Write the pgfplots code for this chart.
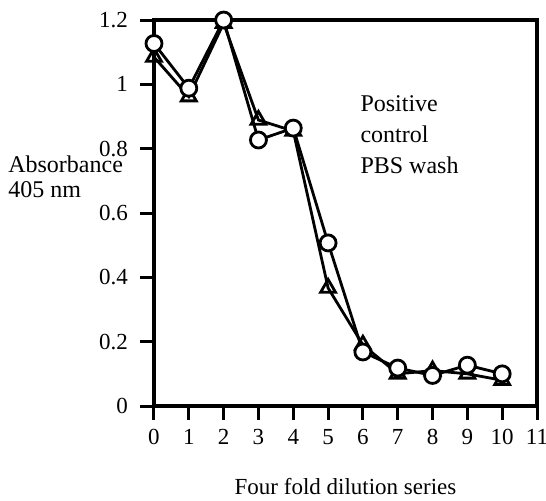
\documentclass[border=0pt]{standalone}
\usepackage{fontspec}
\setmainfont{Liberation Serif}
\usepackage{pgfplots}
\pgfplotsset{compat=1.18}

\begin{document}
\begin{tikzpicture}
% page = reference frame, 1 px = 0.5 pt
\useasboundingbox (-77pt,-47pt) rectangle (196pt,203pt);
\begin{axis}[
  at={(0,0)}, anchor=south west,
  scale only axis,
  width=191.5pt,
  height=193pt,
  xmin=0, xmax=11,
  ymin=0, ymax=1.2,
  xtick={0,1,...,11},
  ytick={0,0.2,0.4,0.6,0.8,1,1.2},
  tick pos=left,
  tick align=outside,
  major tick length=7pt,
  axis line style={line width=1.6pt},
  every tick/.style={line width=1.5pt,black},
  /pgf/number format/assume math mode=true,
  tick label style={font=\fontsize{11.5}{13}\selectfont},
  yticklabel style={xshift=-2.5pt},
  xticklabel style={yshift=-1pt},
  xlabel={Four fold dilution series},
  xlabel style={font=\fontsize{11.5}{13}\selectfont, at={(rel axis cs:0.5,-0.228)}, anchor=base},
  clip=false,
]
\addplot[black, line width=1.4pt, mark=triangle, mark size=4.3pt,
  mark options={fill=white, line width=1.4pt, solid}] coordinates {
  (0,1.085) (1,0.962) (2,1.19) (3,0.889) (4,0.855) (5,0.367)
  (6,0.19) (7,0.10) (8,0.11) (9,0.10) (10,0.08)
};
\addplot[black, line width=1.4pt, mark=*, mark size=4pt,
  mark options={fill=white, line width=1.4pt, solid}] coordinates {
  (0,1.127) (1,0.988) (2,1.2) (3,0.827) (4,0.864) (5,0.507)
  (6,0.168) (7,0.118) (8,0.095) (9,0.127) (10,0.10)
};
\node[anchor=north west, inner sep=0pt, align=left,
  font=\fontsize{12}{12.5}\selectfont] at (axis cs:-4.195,0.78)
  {Absorbance\\405 nm};
\node[anchor=north west, inner sep=0pt, align=left,
  font=\fontsize{12}{15.5}\selectfont] at (axis cs:5.92,0.967)
  {Positive\\control\\PBS wash};
\end{axis}
\end{tikzpicture}
\end{document}
